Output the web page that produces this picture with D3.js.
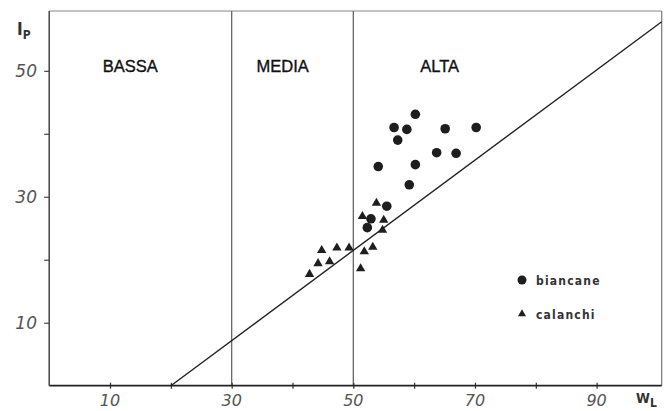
<!DOCTYPE html>
<html>
<head>
<meta charset="utf-8">
<script src="https://cdn.jsdelivr.net/npm/d3@7"></script>
<style>
  body { margin: 0; background: #fff; }
  svg { display: block; }
</style>
</head>
<body>
<script>
'use strict';

// Plasticity chart data (liquid limit W_L vs plasticity index I_P)
const xTicks = [10, 20, 30, 40, 50, 60, 70, 80, 90];
const xTickLabels = [10, 30, 50, 70, 90];
const yTicks = [10, 20, 30, 40, 50];
const yTickLabels = [10, 30, 50];

const zoneBounds = [30, 50];
const zoneNames = ["BASSA", "MEDIA", "ALTA"];
const zoneLabelX = [8.8, 34.1, 61];

// A-line as drawn, two end points [W_L, I_P]
const aLine = [[20, 0], [100.7, 57.8]];

const biancane = [
  [60.2, 43.1], [56.7, 41.0], [58.8, 40.7], [65.1, 40.8], [70.2, 41.0],
  [57.3, 39.0], [63.7, 37.0], [66.9, 36.9], [54.1, 34.8], [60.2, 35.1],
  [59.2, 31.9], [55.5, 28.5], [52.9, 26.5], [52.3, 25.1]
];

const calanchi = [
  [53.8, 29.0], [51.5, 26.9], [55.0, 26.3], [54.8, 24.7],
  [44.8, 21.5], [47.3, 21.9], [49.3, 21.9], [51.8, 21.3], [53.2, 22.0],
  [44.2, 19.4], [46.1, 19.7], [42.8, 17.7], [51.2, 18.6]
];

const legendItems = ["biancane", "calanchi"];

const width = 669, height = 411;

const svg = d3.select("body").append("svg")
  .attr("width", width)
  .attr("height", height);

const x = d3.scaleLinear().domain([0, 100.7]).range([49.2, 661.7]);
const y = d3.scaleLinear().domain([0, 59.5]).range([385.7, 11]);

// frame (top and right are lighter)
svg.append("line")
  .attr("x1", x(0)).attr("x2", x(100.7))
  .attr("y1", y(59.5)).attr("y2", y(59.5))
  .attr("stroke", "#888").attr("stroke-width", 1.2);
svg.append("line")
  .attr("x1", x(100.7)).attr("x2", x(100.7))
  .attr("y1", y(59.5)).attr("y2", y(0))
  .attr("stroke", "#777").attr("stroke-width", 1.2);

// zone boundaries
svg.selectAll("line.zone")
  .data(zoneBounds)
  .enter()
  .append("line")
  .attr("class", "zone")
  .attr("x1", d => x(d)).attr("x2", d => x(d))
  .attr("y1", y(59.5)).attr("y2", y(0))
  .attr("stroke", "#666").attr("stroke-width", 1.3);

// axes
const xAxis = d3.axisBottom(x)
  .tickValues(xTicks)
  .tickSize(4)
  .tickFormat("");
const gx = svg.append("g")
  .attr("transform", "translate(0," + y(0) + ")")
  .call(xAxis);
gx.select(".domain").remove();
gx.selectAll(".tick line").attr("stroke", "#333").attr("stroke-width", 1.2)
  .attr("y1", -3).attr("y2", 3);

const yAxis = d3.axisLeft(y)
  .tickValues(yTicks)
  .tickSize(5)
  .tickFormat("");
const gy = svg.append("g")
  .attr("transform", "translate(" + x(0) + ",0)")
  .call(yAxis);
gy.select(".domain").remove();
gy.selectAll(".tick line").attr("stroke", "#444").attr("stroke-width", 1.2);

svg.append("line")
  .attr("x1", x(0)).attr("x2", x(100.7))
  .attr("y1", y(0)).attr("y2", y(0))
  .attr("stroke", "#222").attr("stroke-width", 1.8);
svg.append("line")
  .attr("x1", x(0)).attr("x2", x(0))
  .attr("y1", y(59.5)).attr("y2", y(0))
  .attr("stroke", "#444").attr("stroke-width", 1.5);

// tick labels
svg.selectAll("text.xl")
  .data(xTickLabels)
  .enter()
  .append("text")
  .attr("class", "xl")
  .attr("x", d => x(d))
  .attr("y", 406)
  .attr("text-anchor", "middle")
  .attr("font-family", "DejaVu Sans")
  .attr("font-style", "italic")
  .attr("font-size", 16)
  .attr("fill", "#555")
  .text(d => d);

svg.selectAll("text.yl")
  .data(yTickLabels)
  .enter()
  .append("text")
  .attr("class", "yl")
  .attr("x", 37)
  .attr("y", d => y(d) + 6.5)
  .attr("text-anchor", "end")
  .attr("font-family", "DejaVu Sans")
  .attr("font-style", "italic")
  .attr("font-size", 17)
  .attr("fill", "#555")
  .text(d => d);

// axis titles
const ipLabel = svg.append("text")
  .attr("x", 17).attr("y", 35)
  .attr("font-family", "DejaVu Sans Condensed")
  .attr("font-weight", "bold")
  .attr("font-size", 17)
  .attr("fill", "#333");
ipLabel.append("tspan").text("I");
ipLabel.append("tspan").attr("dy", 4).attr("font-size", 12).text("P");

const wlLabel = svg.append("text")
  .attr("x", 636).attr("y", 403)
  .attr("font-family", "DejaVu Sans Condensed")
  .attr("font-weight", "bold")
  .attr("font-size", 14)
  .attr("fill", "#333");
wlLabel.append("tspan").text("W");
wlLabel.append("tspan").attr("dy", 4).attr("font-size", 12).text("L");

// zone names
svg.selectAll("text.zn")
  .data(zoneNames)
  .enter()
  .append("text")
  .attr("class", "zn")
  .attr("x", (d, i) => x(zoneLabelX[i]))
  .attr("y", 72)
  .attr("font-family", "Liberation Sans, Arial, sans-serif")
  .attr("font-size", 16.5)
  .attr("fill", "#111")
  .attr("stroke", "#111")
  .attr("stroke-width", 0.35)
  .text(d => d);

// A-line
svg.append("path")
  .datum(aLine)
  .attr("d", d3.line().x(d => x(d[0])).y(d => y(d[1])))
  .attr("stroke", "#222").attr("stroke-width", 1.4).attr("fill", "none");

// points
svg.selectAll("circle.bi")
  .data(biancane)
  .enter()
  .append("circle")
  .attr("class", "bi")
  .attr("cx", d => x(d[0]))
  .attr("cy", d => y(d[1]))
  .attr("r", 4.8)
  .attr("fill", "#1e1e1e");

const tri = d3.symbol().type(d3.symbolTriangle).size(38);
svg.selectAll("path.ca")
  .data(calanchi)
  .enter()
  .append("path")
  .attr("class", "ca")
  .attr("transform", d => "translate(" + x(d[0]) + "," + y(d[1]) + ")")
  .attr("d", tri)
  .attr("fill", "#1e1e1e");

// legend
const legend = svg.selectAll("g.leg")
  .data(legendItems)
  .enter()
  .append("g")
  .attr("class", "leg")
  .attr("transform", (d, i) => "translate(522," + (280 + i * 34) + ")");
legend.each(function(d, i) {
  const g = d3.select(this);
  if (i === 0)
  {
    g.append("circle").attr("r", 4.5).attr("fill", "#1e1e1e");
  }
  else
  {
    g.append("path").attr("d", d3.symbol().type(d3.symbolTriangle).size(28)).attr("fill", "#1e1e1e");
  }
  g.append("text")
    .attr("x", 14)
    .attr("y", 5)
    .attr("font-family", "DejaVu Sans Condensed")
    .attr("font-weight", "bold")
    .attr("font-size", 12)
    .attr("letter-spacing", 1.2)
    .attr("fill", "#333")
    .text(d);
});
</script>
</body>
</html>
